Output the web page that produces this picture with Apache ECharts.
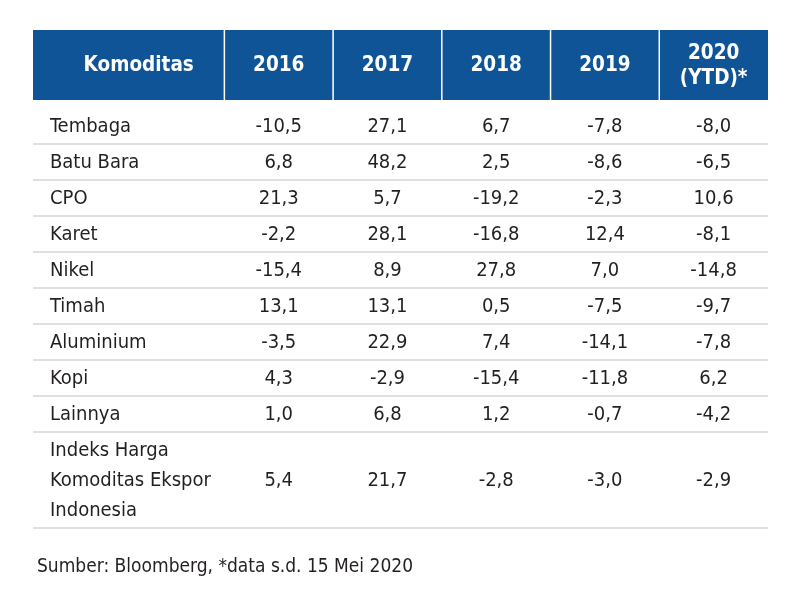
<!DOCTYPE html>
<html><head><meta charset="utf-8">
<script src="https://cdn.jsdelivr.net/npm/echarts@6/dist/echarts.min.js"></script>
<style>html,body{margin:0;padding:0;background:#fff}#c{width:800px;height:600px}</style>
</head><body><div id="c"></div>
<script>
// ---- data ----
const headers = ['Komoditas', '2016', '2017', '2018', '2019', '2020\n(YTD)*'];
const commodities = ['Tembaga', 'Batu Bara', 'CPO', 'Karet', 'Nikel', 'Timah', 'Aluminium', 'Kopi', 'Lainnya', 'Indeks Harga\nKomoditas Ekspor\nIndonesia'];
const v2016 = [-10.5, 6.8, 21.3, -2.2, -15.4, 13.1, -3.5, 4.3, 1.0, 5.4];
const v2017 = [27.1, 48.2, 5.7, 28.1, 8.9, 13.1, 22.9, -2.9, 6.8, 21.7];
const v2018 = [6.7, 2.5, -19.2, -16.8, 27.8, 0.5, 7.4, -15.4, 1.2, -2.8];
const v2019 = [-7.8, -8.6, -2.3, 12.4, 7.0, -7.5, -14.1, -11.8, -0.7, -3.0];
const v2020 = [-8.0, -6.5, 10.6, -8.1, -14.8, -9.7, -7.8, 6.2, -4.2, -2.9];
const footnote = 'Sumber: Bloomberg, *data s.d. 15 Mei 2020';

// ---- layout (style) ----
const FONT = '"Liberation Sans Narrow", "DejaVu Sans Condensed", sans-serif';
const colWeights = [1.76, 1, 1, 1, 1, 1];
const colEdges = [0];
colWeights.forEach(w => colEdges.push(colEdges[colEdges.length - 1] + w));
const headerSpan = 1.944, gapSpan = 0.222, extraLineSpan = 0.833;
const rowTop = [], rowBottom = [];
let yCur = headerSpan + gapSpan;
commodities.forEach(name => {
  const lines = name.split('\n').length;
  rowTop.push(yCur);
  yCur += 1 + (lines - 1) * extraLineSpan;
  rowBottom.push(yCur);
});
const yMax = yCur;
const unitPx = 36;
const gridTop = 30;
const gridBottom = 600 - gridTop - yMax * unitPx;

const cols = [v2016, v2017, v2018, v2019, v2020];
const fmt = v => v.toFixed(1).replace('.', ',');

// header cells
const headerData = headers.map((h, i) => [(colEdges[i] + colEdges[i + 1]) / 2, headerSpan / 2]);
// body cells
const bodyCells = [];
commodities.forEach((name, r) => {
  bodyCells.push({ c: 0, r: r, text: name });
  cols.forEach((arr, k) => bodyCells.push({ c: k + 1, r: r, text: fmt(arr[r]) }));
});
const bodyData = bodyCells.map(o => [(colEdges[o.c] + colEdges[o.c + 1]) / 2, (rowTop[o.r] + rowBottom[o.r]) / 2]);

const chart = echarts.init(document.getElementById('c'), null, { renderer: 'canvas' });
chart.setOption({
  backgroundColor: '#ffffff',
  animation: false,
  title: {
    text: footnote, left: 32, top: 553,
    textStyle: { fontFamily: FONT, fontSize: 19, fontWeight: 'normal', color: '#231f20' }
  },
  grid: { left: 33, right: 32, top: gridTop, bottom: gridBottom },
  xAxis: { type: 'value', min: 0, max: colEdges[colEdges.length - 1], show: false },
  yAxis: { type: 'value', min: 0, max: yMax, inverse: true, show: false },
  series: [
    {
      type: 'custom',
      data: headerData,
      renderItem: function (params, api) {
        const i = params.dataIndex;
        const p0 = api.coord([colEdges[i], 0]);
        const p1 = api.coord([colEdges[i + 1], headerSpan]);
        const children = [{
          type: 'rect',
          shape: { x: p0[0], y: p0[1], width: p1[0] - p0[0], height: p1[1] - p0[1] },
          style: { fill: '#0f5497' }
        }];
        if (i > 0) {
          children.push({
            type: 'line',
            shape: { x1: p0[0], y1: p0[1], x2: p0[0], y2: p1[1] },
            style: { stroke: '#ffffff', lineWidth: 1.5 }
          });
        }
        children.push({
          type: 'text',
          style: {
            text: headers[i], x: (p0[0] + p1[0]) / 2 + (i === 0 ? 10 : 0), y: (p0[1] + p1[1]) / 2 + 1,
            align: 'center', verticalAlign: 'middle', lineHeight: 25,
            fontFamily: FONT, fontSize: 20.5, fontWeight: 'bold', fill: '#ffffff'
          }
        });
        return { type: 'group', children: children };
      }
    },
    {
      type: 'custom',
      data: bodyData,
      renderItem: function (params, api) {
        const o = bodyCells[params.dataIndex];
        const p0 = api.coord([colEdges[o.c], rowTop[o.r]]);
        const p1 = api.coord([colEdges[o.c + 1], rowBottom[o.r]]);
        const first = o.c === 0;
        return {
          type: 'group',
          children: [
            {
              type: 'line',
              shape: { x1: p0[0], y1: p1[1], x2: p1[0], y2: p1[1] },
              style: { stroke: '#d6d6d6', lineWidth: 1.5 }
            },
            {
              type: 'text',
              style: {
                text: o.text,
                x: first ? p0[0] + 17 : (p0[0] + p1[0]) / 2,
                y: (p0[1] + p1[1]) / 2 + 1,
                align: first ? 'left' : 'center', verticalAlign: 'middle', lineHeight: 30,
                fontFamily: FONT, fontSize: 20, fill: '#231f20'
              }
            }
          ]
        };
      }
    }
  ]
});
</script>
</body></html>
